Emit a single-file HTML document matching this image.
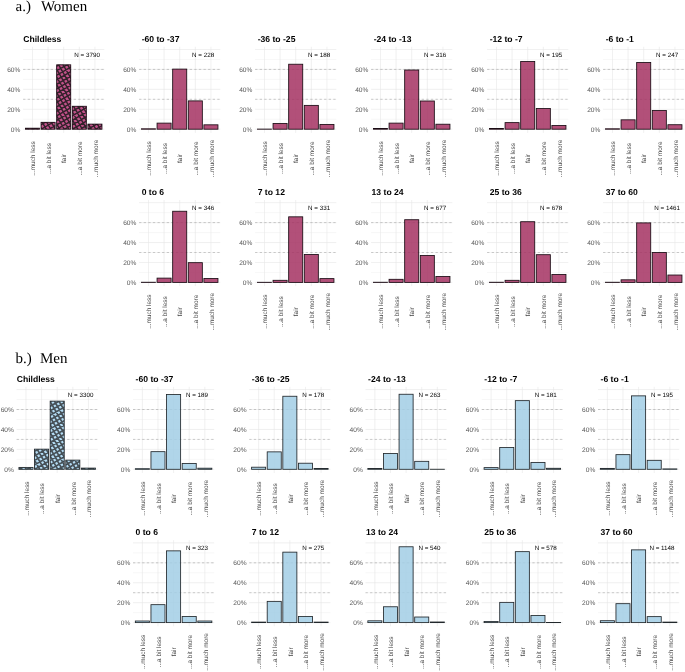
<!DOCTYPE html>
<html lang="en"><head><meta charset="utf-8"><title>Figure</title>
<style>
html,body{margin:0;padding:0;background:#fff;}
body{width:685px;height:672px;overflow:hidden;}
svg{display:block;}
text{font-family:"Liberation Sans",Arial,Helvetica,sans-serif;text-rendering:geometricPrecision;}
.hd{font-family:"Liberation Serif","Times New Roman",serif;font-size:15px;fill:#000;}
.tt{font-size:8.6px;font-weight:bold;fill:#000;}
.nn{font-size:6.25px;fill:#000;}
.ax{font-size:6.45px;fill:#444;}
.ay{font-size:6.6px;fill:#555;}
.gM{stroke:#e6e6e6;stroke-width:0.6;}
.gm{stroke:#efefef;stroke-width:0.5;}
.dash{stroke:#8c8c8c;stroke-width:0.45;stroke-dasharray:2.3 2.3;}
.bar{stroke-width:0.85;fill-opacity:0.85;}
</style></head><body>
<svg width="685" height="672" viewBox="0 0 685 672">
<defs>
<g id="hl"><path transform="rotate(-30)" d="M-130 -124.80H130M-124.80 -130V130M-130 -120.90H130M-120.90 -130V130M-130 -117.00H130M-117.00 -130V130M-130 -113.10H130M-113.10 -130V130M-130 -109.20H130M-109.20 -130V130M-130 -105.30H130M-105.30 -130V130M-130 -101.40H130M-101.40 -130V130M-130 -97.50H130M-97.50 -130V130M-130 -93.60H130M-93.60 -130V130M-130 -89.70H130M-89.70 -130V130M-130 -85.80H130M-85.80 -130V130M-130 -81.90H130M-81.90 -130V130M-130 -78.00H130M-78.00 -130V130M-130 -74.10H130M-74.10 -130V130M-130 -70.20H130M-70.20 -130V130M-130 -66.30H130M-66.30 -130V130M-130 -62.40H130M-62.40 -130V130M-130 -58.50H130M-58.50 -130V130M-130 -54.60H130M-54.60 -130V130M-130 -50.70H130M-50.70 -130V130M-130 -46.80H130M-46.80 -130V130M-130 -42.90H130M-42.90 -130V130M-130 -39.00H130M-39.00 -130V130M-130 -35.10H130M-35.10 -130V130M-130 -31.20H130M-31.20 -130V130M-130 -27.30H130M-27.30 -130V130M-130 -23.40H130M-23.40 -130V130M-130 -19.50H130M-19.50 -130V130M-130 -15.60H130M-15.60 -130V130M-130 -11.70H130M-11.70 -130V130M-130 -7.80H130M-7.80 -130V130M-130 -3.90H130M-3.90 -130V130M-130 0.00H130M0.00 -130V130M-130 3.90H130M3.90 -130V130M-130 7.80H130M7.80 -130V130M-130 11.70H130M11.70 -130V130M-130 15.60H130M15.60 -130V130M-130 19.50H130M19.50 -130V130M-130 23.40H130M23.40 -130V130M-130 27.30H130M27.30 -130V130M-130 31.20H130M31.20 -130V130M-130 35.10H130M35.10 -130V130M-130 39.00H130M39.00 -130V130M-130 42.90H130M42.90 -130V130M-130 46.80H130M46.80 -130V130M-130 50.70H130M50.70 -130V130M-130 54.60H130M54.60 -130V130M-130 58.50H130M58.50 -130V130M-130 62.40H130M62.40 -130V130M-130 66.30H130M66.30 -130V130M-130 70.20H130M70.20 -130V130M-130 74.10H130M74.10 -130V130M-130 78.00H130M78.00 -130V130M-130 81.90H130M81.90 -130V130M-130 85.80H130M85.80 -130V130M-130 89.70H130M89.70 -130V130M-130 93.60H130M93.60 -130V130M-130 97.50H130M97.50 -130V130M-130 101.40H130M101.40 -130V130M-130 105.30H130M105.30 -130V130M-130 109.20H130M109.20 -130V130M-130 113.10H130M113.10 -130V130M-130 117.00H130M117.00 -130V130M-130 120.90H130M120.90 -130V130M-130 124.80H130M124.80 -130V130" fill="none"/></g>
<filter id="bl" x="-5%" y="-5%" width="110%" height="110%"><feGaussianBlur stdDeviation="0.4"/></filter>
</defs>
<rect width="685" height="672" fill="#fff"/>
<text class="hd" x="15.6" y="11.2">a.)</text><text class="hd" x="40.9" y="11.2">Women</text>
<text class="hd" x="15.6" y="362.9">b.)</text><text class="hd" x="39.9" y="362.9">Men</text>
<g><line class="gm" x1="23.10" x2="104.30" y1="119.23" y2="119.23"/>
<line class="gm" x1="23.10" x2="104.30" y1="99.30" y2="99.30"/>
<line class="gm" x1="23.10" x2="104.30" y1="79.37" y2="79.37"/>
<line class="gm" x1="23.10" x2="104.30" y1="59.44" y2="59.44"/>
<line class="gM" x1="23.10" x2="104.30" y1="129.20" y2="129.20"/>
<line class="gM" x1="23.10" x2="104.30" y1="109.27" y2="109.27"/>
<line class="gM" x1="23.10" x2="104.30" y1="89.34" y2="89.34"/>
<line class="gM" x1="23.10" x2="104.30" y1="69.41" y2="69.41"/>
<line class="gM" x1="23.10" x2="104.30" y1="49.48" y2="49.48"/>
<line class="gM" x1="32.47" x2="32.47" y1="46.79" y2="132.89"/>
<line class="gM" x1="48.08" x2="48.08" y1="46.79" y2="132.89"/>
<line class="gM" x1="63.70" x2="63.70" y1="46.79" y2="132.89"/>
<line class="gM" x1="79.32" x2="79.32" y1="46.79" y2="132.89"/>
<line class="gM" x1="94.93" x2="94.93" y1="46.79" y2="132.89"/>
<line class="dash" x1="23.10" x2="104.30" y1="99.30" y2="99.30"/>
<line class="dash" x1="23.10" x2="104.30" y1="69.41" y2="69.41"/>
<clipPath id="chw0"><rect x="25.44" y="128.20" width="14.05" height="1.00"/></clipPath>
<rect x="25.44" y="128.20" width="14.05" height="1.00" fill="#c2528a"/>
<g clip-path="url(#chw0)"><use filter="url(#bl)" href="#hl" x="63.70" y="89.20" stroke="#33202b" stroke-width="1.45"/></g>
<rect class="bar" x="25.44" y="128.20" width="14.05" height="1.00" fill="none" stroke="#1a0c14"/>
<clipPath id="chw1"><rect x="41.06" y="122.32" width="14.05" height="6.88"/></clipPath>
<rect x="41.06" y="122.32" width="14.05" height="6.88" fill="#c2528a"/>
<g clip-path="url(#chw1)"><use filter="url(#bl)" href="#hl" x="63.70" y="89.20" stroke="#33202b" stroke-width="1.45"/></g>
<rect class="bar" x="41.06" y="122.32" width="14.05" height="6.88" fill="none" stroke="#1a0c14"/>
<clipPath id="chw2"><rect x="56.67" y="64.83" width="14.05" height="64.37"/></clipPath>
<rect x="56.67" y="64.83" width="14.05" height="64.37" fill="#c2528a"/>
<g clip-path="url(#chw2)"><use filter="url(#bl)" href="#hl" x="63.70" y="89.20" stroke="#33202b" stroke-width="1.45"/></g>
<rect class="bar" x="56.67" y="64.83" width="14.05" height="64.37" fill="none" stroke="#1a0c14"/>
<clipPath id="chw3"><rect x="72.29" y="106.28" width="14.05" height="22.92"/></clipPath>
<rect x="72.29" y="106.28" width="14.05" height="22.92" fill="#c2528a"/>
<g clip-path="url(#chw3)"><use filter="url(#bl)" href="#hl" x="63.70" y="89.20" stroke="#33202b" stroke-width="1.45"/></g>
<rect class="bar" x="72.29" y="106.28" width="14.05" height="22.92" fill="none" stroke="#1a0c14"/>
<clipPath id="chw4"><rect x="87.90" y="124.12" width="14.05" height="5.08"/></clipPath>
<rect x="87.90" y="124.12" width="14.05" height="5.08" fill="#c2528a"/>
<g clip-path="url(#chw4)"><use filter="url(#bl)" href="#hl" x="63.70" y="89.20" stroke="#33202b" stroke-width="1.45"/></g>
<rect class="bar" x="87.90" y="124.12" width="14.05" height="5.08" fill="none" stroke="#1a0c14"/>
<text class="ay" text-anchor="end" x="20.40" y="131.55">0%</text>
<text class="ay" text-anchor="end" x="20.40" y="111.62">20%</text>
<text class="ay" text-anchor="end" x="20.40" y="91.69">40%</text>
<text class="ay" text-anchor="end" x="20.40" y="71.76">60%</text>
<text class="ax" text-anchor="middle" transform="translate(35.17 158.50) rotate(-90)">...much less</text>
<text class="ax" text-anchor="middle" transform="translate(50.78 158.50) rotate(-90)">...a bit less</text>
<text class="ax" text-anchor="middle" transform="translate(66.40 158.50) rotate(-90)">fair</text>
<text class="ax" text-anchor="middle" transform="translate(82.02 158.50) rotate(-90)">...a bit more</text>
<text class="ax" text-anchor="middle" transform="translate(97.63 158.50) rotate(-90)">...much more</text>
<text class="tt" x="23.20" y="41.80">Childless</text>
<text class="nn" text-anchor="middle" x="87.12" y="57.00">N = 3790</text></g>
<g><line class="gm" x1="139.10" x2="220.30" y1="119.23" y2="119.23"/>
<line class="gm" x1="139.10" x2="220.30" y1="99.30" y2="99.30"/>
<line class="gm" x1="139.10" x2="220.30" y1="79.37" y2="79.37"/>
<line class="gm" x1="139.10" x2="220.30" y1="59.44" y2="59.44"/>
<line class="gM" x1="139.10" x2="220.30" y1="129.20" y2="129.20"/>
<line class="gM" x1="139.10" x2="220.30" y1="109.27" y2="109.27"/>
<line class="gM" x1="139.10" x2="220.30" y1="89.34" y2="89.34"/>
<line class="gM" x1="139.10" x2="220.30" y1="69.41" y2="69.41"/>
<line class="gM" x1="139.10" x2="220.30" y1="49.48" y2="49.48"/>
<line class="gM" x1="148.47" x2="148.47" y1="46.79" y2="132.89"/>
<line class="gM" x1="164.08" x2="164.08" y1="46.79" y2="132.89"/>
<line class="gM" x1="179.70" x2="179.70" y1="46.79" y2="132.89"/>
<line class="gM" x1="195.32" x2="195.32" y1="46.79" y2="132.89"/>
<line class="gM" x1="210.93" x2="210.93" y1="46.79" y2="132.89"/>
<line class="dash" x1="139.10" x2="220.30" y1="99.30" y2="99.30"/>
<line class="dash" x1="139.10" x2="220.30" y1="69.41" y2="69.41"/>
<rect class="bar" x="141.44" y="128.80" width="14.05" height="0.40" fill="#a43161" stroke="#1a0c14"/>
<rect class="bar" x="157.06" y="123.12" width="14.05" height="6.08" fill="#a43161" stroke="#1a0c14"/>
<rect class="bar" x="172.67" y="69.11" width="14.05" height="60.09" fill="#a43161" stroke="#1a0c14"/>
<rect class="bar" x="188.29" y="100.90" width="14.05" height="28.30" fill="#a43161" stroke="#1a0c14"/>
<rect class="bar" x="203.90" y="124.82" width="14.05" height="4.38" fill="#a43161" stroke="#1a0c14"/>
<text class="ay" text-anchor="end" x="136.40" y="131.55">0%</text>
<text class="ay" text-anchor="end" x="136.40" y="111.62">20%</text>
<text class="ay" text-anchor="end" x="136.40" y="91.69">40%</text>
<text class="ay" text-anchor="end" x="136.40" y="71.76">60%</text>
<text class="ax" text-anchor="middle" transform="translate(151.17 158.50) rotate(-90)">...much less</text>
<text class="ax" text-anchor="middle" transform="translate(166.78 158.50) rotate(-90)">...a bit less</text>
<text class="ax" text-anchor="middle" transform="translate(182.40 158.50) rotate(-90)">fair</text>
<text class="ax" text-anchor="middle" transform="translate(198.02 158.50) rotate(-90)">...a bit more</text>
<text class="ax" text-anchor="middle" transform="translate(213.63 158.50) rotate(-90)">...much more</text>
<text class="tt" x="141.70" y="41.80">-60 to -37</text>
<text class="nn" text-anchor="middle" x="203.12" y="57.00">N = 228</text></g>
<g><line class="gm" x1="255.10" x2="336.30" y1="119.23" y2="119.23"/>
<line class="gm" x1="255.10" x2="336.30" y1="99.30" y2="99.30"/>
<line class="gm" x1="255.10" x2="336.30" y1="79.37" y2="79.37"/>
<line class="gm" x1="255.10" x2="336.30" y1="59.44" y2="59.44"/>
<line class="gM" x1="255.10" x2="336.30" y1="129.20" y2="129.20"/>
<line class="gM" x1="255.10" x2="336.30" y1="109.27" y2="109.27"/>
<line class="gM" x1="255.10" x2="336.30" y1="89.34" y2="89.34"/>
<line class="gM" x1="255.10" x2="336.30" y1="69.41" y2="69.41"/>
<line class="gM" x1="255.10" x2="336.30" y1="49.48" y2="49.48"/>
<line class="gM" x1="264.47" x2="264.47" y1="46.79" y2="132.89"/>
<line class="gM" x1="280.08" x2="280.08" y1="46.79" y2="132.89"/>
<line class="gM" x1="295.70" x2="295.70" y1="46.79" y2="132.89"/>
<line class="gM" x1="311.32" x2="311.32" y1="46.79" y2="132.89"/>
<line class="gM" x1="326.93" x2="326.93" y1="46.79" y2="132.89"/>
<line class="dash" x1="255.10" x2="336.30" y1="99.30" y2="99.30"/>
<line class="dash" x1="255.10" x2="336.30" y1="69.41" y2="69.41"/>
<rect class="bar" x="257.44" y="129.10" width="14.05" height="0.10" fill="#a43161" stroke="#1a0c14"/>
<rect class="bar" x="273.06" y="123.42" width="14.05" height="5.78" fill="#a43161" stroke="#1a0c14"/>
<rect class="bar" x="288.67" y="64.23" width="14.05" height="64.97" fill="#a43161" stroke="#1a0c14"/>
<rect class="bar" x="304.29" y="105.38" width="14.05" height="23.82" fill="#a43161" stroke="#1a0c14"/>
<rect class="bar" x="319.90" y="124.42" width="14.05" height="4.78" fill="#a43161" stroke="#1a0c14"/>
<text class="ay" text-anchor="end" x="252.40" y="131.55">0%</text>
<text class="ay" text-anchor="end" x="252.40" y="111.62">20%</text>
<text class="ay" text-anchor="end" x="252.40" y="91.69">40%</text>
<text class="ay" text-anchor="end" x="252.40" y="71.76">60%</text>
<text class="ax" text-anchor="middle" transform="translate(267.17 158.50) rotate(-90)">...much less</text>
<text class="ax" text-anchor="middle" transform="translate(282.78 158.50) rotate(-90)">...a bit less</text>
<text class="ax" text-anchor="middle" transform="translate(298.40 158.50) rotate(-90)">fair</text>
<text class="ax" text-anchor="middle" transform="translate(314.02 158.50) rotate(-90)">...a bit more</text>
<text class="ax" text-anchor="middle" transform="translate(329.63 158.50) rotate(-90)">...much more</text>
<text class="tt" x="257.70" y="41.80">-36 to -25</text>
<text class="nn" text-anchor="middle" x="319.12" y="57.00">N = 188</text></g>
<g><line class="gm" x1="371.10" x2="452.30" y1="119.23" y2="119.23"/>
<line class="gm" x1="371.10" x2="452.30" y1="99.30" y2="99.30"/>
<line class="gm" x1="371.10" x2="452.30" y1="79.37" y2="79.37"/>
<line class="gm" x1="371.10" x2="452.30" y1="59.44" y2="59.44"/>
<line class="gM" x1="371.10" x2="452.30" y1="129.20" y2="129.20"/>
<line class="gM" x1="371.10" x2="452.30" y1="109.27" y2="109.27"/>
<line class="gM" x1="371.10" x2="452.30" y1="89.34" y2="89.34"/>
<line class="gM" x1="371.10" x2="452.30" y1="69.41" y2="69.41"/>
<line class="gM" x1="371.10" x2="452.30" y1="49.48" y2="49.48"/>
<line class="gM" x1="380.47" x2="380.47" y1="46.79" y2="132.89"/>
<line class="gM" x1="396.08" x2="396.08" y1="46.79" y2="132.89"/>
<line class="gM" x1="411.70" x2="411.70" y1="46.79" y2="132.89"/>
<line class="gM" x1="427.32" x2="427.32" y1="46.79" y2="132.89"/>
<line class="gM" x1="442.93" x2="442.93" y1="46.79" y2="132.89"/>
<line class="dash" x1="371.10" x2="452.30" y1="99.30" y2="99.30"/>
<line class="dash" x1="371.10" x2="452.30" y1="69.41" y2="69.41"/>
<rect class="bar" x="373.44" y="128.50" width="14.05" height="0.70" fill="#a43161" stroke="#1a0c14"/>
<rect class="bar" x="389.06" y="123.12" width="14.05" height="6.08" fill="#a43161" stroke="#1a0c14"/>
<rect class="bar" x="404.67" y="70.01" width="14.05" height="59.19" fill="#a43161" stroke="#1a0c14"/>
<rect class="bar" x="420.29" y="101.00" width="14.05" height="28.20" fill="#a43161" stroke="#1a0c14"/>
<rect class="bar" x="435.90" y="124.22" width="14.05" height="4.98" fill="#a43161" stroke="#1a0c14"/>
<text class="ay" text-anchor="end" x="368.40" y="131.55">0%</text>
<text class="ay" text-anchor="end" x="368.40" y="111.62">20%</text>
<text class="ay" text-anchor="end" x="368.40" y="91.69">40%</text>
<text class="ay" text-anchor="end" x="368.40" y="71.76">60%</text>
<text class="ax" text-anchor="middle" transform="translate(383.17 158.50) rotate(-90)">...much less</text>
<text class="ax" text-anchor="middle" transform="translate(398.78 158.50) rotate(-90)">...a bit less</text>
<text class="ax" text-anchor="middle" transform="translate(414.40 158.50) rotate(-90)">fair</text>
<text class="ax" text-anchor="middle" transform="translate(430.02 158.50) rotate(-90)">...a bit more</text>
<text class="ax" text-anchor="middle" transform="translate(445.63 158.50) rotate(-90)">...much more</text>
<text class="tt" x="373.70" y="41.80">-24 to -13</text>
<text class="nn" text-anchor="middle" x="435.12" y="57.00">N = 316</text></g>
<g><line class="gm" x1="487.10" x2="568.30" y1="119.23" y2="119.23"/>
<line class="gm" x1="487.10" x2="568.30" y1="99.30" y2="99.30"/>
<line class="gm" x1="487.10" x2="568.30" y1="79.37" y2="79.37"/>
<line class="gm" x1="487.10" x2="568.30" y1="59.44" y2="59.44"/>
<line class="gM" x1="487.10" x2="568.30" y1="129.20" y2="129.20"/>
<line class="gM" x1="487.10" x2="568.30" y1="109.27" y2="109.27"/>
<line class="gM" x1="487.10" x2="568.30" y1="89.34" y2="89.34"/>
<line class="gM" x1="487.10" x2="568.30" y1="69.41" y2="69.41"/>
<line class="gM" x1="487.10" x2="568.30" y1="49.48" y2="49.48"/>
<line class="gM" x1="496.47" x2="496.47" y1="46.79" y2="132.89"/>
<line class="gM" x1="512.08" x2="512.08" y1="46.79" y2="132.89"/>
<line class="gM" x1="527.70" x2="527.70" y1="46.79" y2="132.89"/>
<line class="gM" x1="543.32" x2="543.32" y1="46.79" y2="132.89"/>
<line class="gM" x1="558.93" x2="558.93" y1="46.79" y2="132.89"/>
<line class="dash" x1="487.10" x2="568.30" y1="99.30" y2="99.30"/>
<line class="dash" x1="487.10" x2="568.30" y1="69.41" y2="69.41"/>
<rect class="bar" x="489.44" y="128.50" width="14.05" height="0.70" fill="#a43161" stroke="#1a0c14"/>
<rect class="bar" x="505.06" y="122.62" width="14.05" height="6.58" fill="#a43161" stroke="#1a0c14"/>
<rect class="bar" x="520.67" y="61.54" width="14.05" height="67.66" fill="#a43161" stroke="#1a0c14"/>
<rect class="bar" x="536.29" y="108.57" width="14.05" height="20.63" fill="#a43161" stroke="#1a0c14"/>
<rect class="bar" x="551.90" y="125.51" width="14.05" height="3.69" fill="#a43161" stroke="#1a0c14"/>
<text class="ay" text-anchor="end" x="484.40" y="131.55">0%</text>
<text class="ay" text-anchor="end" x="484.40" y="111.62">20%</text>
<text class="ay" text-anchor="end" x="484.40" y="91.69">40%</text>
<text class="ay" text-anchor="end" x="484.40" y="71.76">60%</text>
<text class="ax" text-anchor="middle" transform="translate(499.17 158.50) rotate(-90)">...much less</text>
<text class="ax" text-anchor="middle" transform="translate(514.78 158.50) rotate(-90)">...a bit less</text>
<text class="ax" text-anchor="middle" transform="translate(530.40 158.50) rotate(-90)">fair</text>
<text class="ax" text-anchor="middle" transform="translate(546.02 158.50) rotate(-90)">...a bit more</text>
<text class="ax" text-anchor="middle" transform="translate(561.63 158.50) rotate(-90)">...much more</text>
<text class="tt" x="489.70" y="41.80">-12 to -7</text>
<text class="nn" text-anchor="middle" x="551.12" y="57.00">N = 195</text></g>
<g><line class="gm" x1="603.10" x2="684.30" y1="119.23" y2="119.23"/>
<line class="gm" x1="603.10" x2="684.30" y1="99.30" y2="99.30"/>
<line class="gm" x1="603.10" x2="684.30" y1="79.37" y2="79.37"/>
<line class="gm" x1="603.10" x2="684.30" y1="59.44" y2="59.44"/>
<line class="gM" x1="603.10" x2="684.30" y1="129.20" y2="129.20"/>
<line class="gM" x1="603.10" x2="684.30" y1="109.27" y2="109.27"/>
<line class="gM" x1="603.10" x2="684.30" y1="89.34" y2="89.34"/>
<line class="gM" x1="603.10" x2="684.30" y1="69.41" y2="69.41"/>
<line class="gM" x1="603.10" x2="684.30" y1="49.48" y2="49.48"/>
<line class="gM" x1="612.47" x2="612.47" y1="46.79" y2="132.89"/>
<line class="gM" x1="628.08" x2="628.08" y1="46.79" y2="132.89"/>
<line class="gM" x1="643.70" x2="643.70" y1="46.79" y2="132.89"/>
<line class="gM" x1="659.32" x2="659.32" y1="46.79" y2="132.89"/>
<line class="gM" x1="674.93" x2="674.93" y1="46.79" y2="132.89"/>
<line class="dash" x1="603.10" x2="684.30" y1="99.30" y2="99.30"/>
<line class="dash" x1="603.10" x2="684.30" y1="69.41" y2="69.41"/>
<rect class="bar" x="605.44" y="128.80" width="14.05" height="0.40" fill="#a43161" stroke="#1a0c14"/>
<rect class="bar" x="621.06" y="119.83" width="14.05" height="9.37" fill="#a43161" stroke="#1a0c14"/>
<rect class="bar" x="636.67" y="62.53" width="14.05" height="66.67" fill="#a43161" stroke="#1a0c14"/>
<rect class="bar" x="652.29" y="110.57" width="14.05" height="18.63" fill="#a43161" stroke="#1a0c14"/>
<rect class="bar" x="667.90" y="124.72" width="14.05" height="4.48" fill="#a43161" stroke="#1a0c14"/>
<text class="ay" text-anchor="end" x="600.40" y="131.55">0%</text>
<text class="ay" text-anchor="end" x="600.40" y="111.62">20%</text>
<text class="ay" text-anchor="end" x="600.40" y="91.69">40%</text>
<text class="ay" text-anchor="end" x="600.40" y="71.76">60%</text>
<text class="ax" text-anchor="middle" transform="translate(615.17 158.50) rotate(-90)">...much less</text>
<text class="ax" text-anchor="middle" transform="translate(630.78 158.50) rotate(-90)">...a bit less</text>
<text class="ax" text-anchor="middle" transform="translate(646.40 158.50) rotate(-90)">fair</text>
<text class="ax" text-anchor="middle" transform="translate(662.02 158.50) rotate(-90)">...a bit more</text>
<text class="ax" text-anchor="middle" transform="translate(677.63 158.50) rotate(-90)">...much more</text>
<text class="tt" x="605.70" y="41.80">-6 to -1</text>
<text class="nn" text-anchor="middle" x="667.12" y="57.00">N = 247</text></g>
<g><line class="gm" x1="139.10" x2="220.30" y1="272.44" y2="272.44"/>
<line class="gm" x1="139.10" x2="220.30" y1="252.50" y2="252.50"/>
<line class="gm" x1="139.10" x2="220.30" y1="232.57" y2="232.57"/>
<line class="gm" x1="139.10" x2="220.30" y1="212.64" y2="212.64"/>
<line class="gM" x1="139.10" x2="220.30" y1="282.40" y2="282.40"/>
<line class="gM" x1="139.10" x2="220.30" y1="262.47" y2="262.47"/>
<line class="gM" x1="139.10" x2="220.30" y1="242.54" y2="242.54"/>
<line class="gM" x1="139.10" x2="220.30" y1="222.61" y2="222.61"/>
<line class="gM" x1="139.10" x2="220.30" y1="202.68" y2="202.68"/>
<line class="gM" x1="148.47" x2="148.47" y1="199.99" y2="286.09"/>
<line class="gM" x1="164.08" x2="164.08" y1="199.99" y2="286.09"/>
<line class="gM" x1="179.70" x2="179.70" y1="199.99" y2="286.09"/>
<line class="gM" x1="195.32" x2="195.32" y1="199.99" y2="286.09"/>
<line class="gM" x1="210.93" x2="210.93" y1="199.99" y2="286.09"/>
<line class="dash" x1="139.10" x2="220.30" y1="252.50" y2="252.50"/>
<line class="dash" x1="139.10" x2="220.30" y1="222.61" y2="222.61"/>
<rect class="bar" x="141.44" y="282.25" width="14.05" height="0.15" fill="#a43161" stroke="#1a0c14"/>
<rect class="bar" x="157.06" y="278.12" width="14.05" height="4.28" fill="#a43161" stroke="#1a0c14"/>
<rect class="bar" x="172.67" y="211.25" width="14.05" height="71.15" fill="#a43161" stroke="#1a0c14"/>
<rect class="bar" x="188.29" y="262.67" width="14.05" height="19.73" fill="#a43161" stroke="#1a0c14"/>
<rect class="bar" x="203.90" y="278.51" width="14.05" height="3.89" fill="#a43161" stroke="#1a0c14"/>
<text class="ay" text-anchor="end" x="136.40" y="284.75">0%</text>
<text class="ay" text-anchor="end" x="136.40" y="264.82">20%</text>
<text class="ay" text-anchor="end" x="136.40" y="244.89">40%</text>
<text class="ay" text-anchor="end" x="136.40" y="224.96">60%</text>
<text class="ax" text-anchor="middle" transform="translate(151.17 311.70) rotate(-90)">...much less</text>
<text class="ax" text-anchor="middle" transform="translate(166.78 311.70) rotate(-90)">...a bit less</text>
<text class="ax" text-anchor="middle" transform="translate(182.40 311.70) rotate(-90)">fair</text>
<text class="ax" text-anchor="middle" transform="translate(198.02 311.70) rotate(-90)">...a bit more</text>
<text class="ax" text-anchor="middle" transform="translate(213.63 311.70) rotate(-90)">...much more</text>
<text class="tt" x="141.70" y="195.00">0 to 6</text>
<text class="nn" text-anchor="middle" x="203.12" y="210.20">N = 346</text></g>
<g><line class="gm" x1="255.10" x2="336.30" y1="272.44" y2="272.44"/>
<line class="gm" x1="255.10" x2="336.30" y1="252.50" y2="252.50"/>
<line class="gm" x1="255.10" x2="336.30" y1="232.57" y2="232.57"/>
<line class="gm" x1="255.10" x2="336.30" y1="212.64" y2="212.64"/>
<line class="gM" x1="255.10" x2="336.30" y1="282.40" y2="282.40"/>
<line class="gM" x1="255.10" x2="336.30" y1="262.47" y2="262.47"/>
<line class="gM" x1="255.10" x2="336.30" y1="242.54" y2="242.54"/>
<line class="gM" x1="255.10" x2="336.30" y1="222.61" y2="222.61"/>
<line class="gM" x1="255.10" x2="336.30" y1="202.68" y2="202.68"/>
<line class="gM" x1="264.47" x2="264.47" y1="199.99" y2="286.09"/>
<line class="gM" x1="280.08" x2="280.08" y1="199.99" y2="286.09"/>
<line class="gM" x1="295.70" x2="295.70" y1="199.99" y2="286.09"/>
<line class="gM" x1="311.32" x2="311.32" y1="199.99" y2="286.09"/>
<line class="gM" x1="326.93" x2="326.93" y1="199.99" y2="286.09"/>
<line class="dash" x1="255.10" x2="336.30" y1="252.50" y2="252.50"/>
<line class="dash" x1="255.10" x2="336.30" y1="222.61" y2="222.61"/>
<rect class="bar" x="257.44" y="282.30" width="14.05" height="0.10" fill="#a43161" stroke="#1a0c14"/>
<rect class="bar" x="273.06" y="280.31" width="14.05" height="2.09" fill="#a43161" stroke="#1a0c14"/>
<rect class="bar" x="288.67" y="216.83" width="14.05" height="65.57" fill="#a43161" stroke="#1a0c14"/>
<rect class="bar" x="304.29" y="254.50" width="14.05" height="27.90" fill="#a43161" stroke="#1a0c14"/>
<rect class="bar" x="319.90" y="278.61" width="14.05" height="3.79" fill="#a43161" stroke="#1a0c14"/>
<text class="ay" text-anchor="end" x="252.40" y="284.75">0%</text>
<text class="ay" text-anchor="end" x="252.40" y="264.82">20%</text>
<text class="ay" text-anchor="end" x="252.40" y="244.89">40%</text>
<text class="ay" text-anchor="end" x="252.40" y="224.96">60%</text>
<text class="ax" text-anchor="middle" transform="translate(267.17 311.70) rotate(-90)">...much less</text>
<text class="ax" text-anchor="middle" transform="translate(282.78 311.70) rotate(-90)">...a bit less</text>
<text class="ax" text-anchor="middle" transform="translate(298.40 311.70) rotate(-90)">fair</text>
<text class="ax" text-anchor="middle" transform="translate(314.02 311.70) rotate(-90)">...a bit more</text>
<text class="ax" text-anchor="middle" transform="translate(329.63 311.70) rotate(-90)">...much more</text>
<text class="tt" x="257.70" y="195.00">7 to 12</text>
<text class="nn" text-anchor="middle" x="319.12" y="210.20">N = 331</text></g>
<g><line class="gm" x1="371.10" x2="452.30" y1="272.44" y2="272.44"/>
<line class="gm" x1="371.10" x2="452.30" y1="252.50" y2="252.50"/>
<line class="gm" x1="371.10" x2="452.30" y1="232.57" y2="232.57"/>
<line class="gm" x1="371.10" x2="452.30" y1="212.64" y2="212.64"/>
<line class="gM" x1="371.10" x2="452.30" y1="282.40" y2="282.40"/>
<line class="gM" x1="371.10" x2="452.30" y1="262.47" y2="262.47"/>
<line class="gM" x1="371.10" x2="452.30" y1="242.54" y2="242.54"/>
<line class="gM" x1="371.10" x2="452.30" y1="222.61" y2="222.61"/>
<line class="gM" x1="371.10" x2="452.30" y1="202.68" y2="202.68"/>
<line class="gM" x1="380.47" x2="380.47" y1="199.99" y2="286.09"/>
<line class="gM" x1="396.08" x2="396.08" y1="199.99" y2="286.09"/>
<line class="gM" x1="411.70" x2="411.70" y1="199.99" y2="286.09"/>
<line class="gM" x1="427.32" x2="427.32" y1="199.99" y2="286.09"/>
<line class="gM" x1="442.93" x2="442.93" y1="199.99" y2="286.09"/>
<line class="dash" x1="371.10" x2="452.30" y1="252.50" y2="252.50"/>
<line class="dash" x1="371.10" x2="452.30" y1="222.61" y2="222.61"/>
<rect class="bar" x="373.44" y="282.25" width="14.05" height="0.15" fill="#a43161" stroke="#1a0c14"/>
<rect class="bar" x="389.06" y="279.31" width="14.05" height="3.09" fill="#a43161" stroke="#1a0c14"/>
<rect class="bar" x="404.67" y="219.72" width="14.05" height="62.68" fill="#a43161" stroke="#1a0c14"/>
<rect class="bar" x="420.29" y="255.49" width="14.05" height="26.91" fill="#a43161" stroke="#1a0c14"/>
<rect class="bar" x="435.90" y="276.52" width="14.05" height="5.88" fill="#a43161" stroke="#1a0c14"/>
<text class="ay" text-anchor="end" x="368.40" y="284.75">0%</text>
<text class="ay" text-anchor="end" x="368.40" y="264.82">20%</text>
<text class="ay" text-anchor="end" x="368.40" y="244.89">40%</text>
<text class="ay" text-anchor="end" x="368.40" y="224.96">60%</text>
<text class="ax" text-anchor="middle" transform="translate(383.17 311.70) rotate(-90)">...much less</text>
<text class="ax" text-anchor="middle" transform="translate(398.78 311.70) rotate(-90)">...a bit less</text>
<text class="ax" text-anchor="middle" transform="translate(414.40 311.70) rotate(-90)">fair</text>
<text class="ax" text-anchor="middle" transform="translate(430.02 311.70) rotate(-90)">...a bit more</text>
<text class="ax" text-anchor="middle" transform="translate(445.63 311.70) rotate(-90)">...much more</text>
<text class="tt" x="371.60" y="195.00">13 to 24</text>
<text class="nn" text-anchor="middle" x="435.12" y="210.20">N = 677</text></g>
<g><line class="gm" x1="487.10" x2="568.30" y1="272.44" y2="272.44"/>
<line class="gm" x1="487.10" x2="568.30" y1="252.50" y2="252.50"/>
<line class="gm" x1="487.10" x2="568.30" y1="232.57" y2="232.57"/>
<line class="gm" x1="487.10" x2="568.30" y1="212.64" y2="212.64"/>
<line class="gM" x1="487.10" x2="568.30" y1="282.40" y2="282.40"/>
<line class="gM" x1="487.10" x2="568.30" y1="262.47" y2="262.47"/>
<line class="gM" x1="487.10" x2="568.30" y1="242.54" y2="242.54"/>
<line class="gM" x1="487.10" x2="568.30" y1="222.61" y2="222.61"/>
<line class="gM" x1="487.10" x2="568.30" y1="202.68" y2="202.68"/>
<line class="gM" x1="496.47" x2="496.47" y1="199.99" y2="286.09"/>
<line class="gM" x1="512.08" x2="512.08" y1="199.99" y2="286.09"/>
<line class="gM" x1="527.70" x2="527.70" y1="199.99" y2="286.09"/>
<line class="gM" x1="543.32" x2="543.32" y1="199.99" y2="286.09"/>
<line class="gM" x1="558.93" x2="558.93" y1="199.99" y2="286.09"/>
<line class="dash" x1="487.10" x2="568.30" y1="252.50" y2="252.50"/>
<line class="dash" x1="487.10" x2="568.30" y1="222.61" y2="222.61"/>
<rect class="bar" x="489.44" y="282.25" width="14.05" height="0.15" fill="#a43161" stroke="#1a0c14"/>
<rect class="bar" x="505.06" y="280.31" width="14.05" height="2.09" fill="#a43161" stroke="#1a0c14"/>
<rect class="bar" x="520.67" y="221.71" width="14.05" height="60.69" fill="#a43161" stroke="#1a0c14"/>
<rect class="bar" x="536.29" y="254.70" width="14.05" height="27.70" fill="#a43161" stroke="#1a0c14"/>
<rect class="bar" x="551.90" y="274.43" width="14.05" height="7.97" fill="#a43161" stroke="#1a0c14"/>
<text class="ay" text-anchor="end" x="484.40" y="284.75">0%</text>
<text class="ay" text-anchor="end" x="484.40" y="264.82">20%</text>
<text class="ay" text-anchor="end" x="484.40" y="244.89">40%</text>
<text class="ay" text-anchor="end" x="484.40" y="224.96">60%</text>
<text class="ax" text-anchor="middle" transform="translate(499.17 311.70) rotate(-90)">...much less</text>
<text class="ax" text-anchor="middle" transform="translate(514.78 311.70) rotate(-90)">...a bit less</text>
<text class="ax" text-anchor="middle" transform="translate(530.40 311.70) rotate(-90)">fair</text>
<text class="ax" text-anchor="middle" transform="translate(546.02 311.70) rotate(-90)">...a bit more</text>
<text class="ax" text-anchor="middle" transform="translate(561.63 311.70) rotate(-90)">...much more</text>
<text class="tt" x="489.70" y="195.00">25 to 36</text>
<text class="nn" text-anchor="middle" x="551.12" y="210.20">N = 678</text></g>
<g><line class="gm" x1="603.10" x2="684.30" y1="272.44" y2="272.44"/>
<line class="gm" x1="603.10" x2="684.30" y1="252.50" y2="252.50"/>
<line class="gm" x1="603.10" x2="684.30" y1="232.57" y2="232.57"/>
<line class="gm" x1="603.10" x2="684.30" y1="212.64" y2="212.64"/>
<line class="gM" x1="603.10" x2="684.30" y1="282.40" y2="282.40"/>
<line class="gM" x1="603.10" x2="684.30" y1="262.47" y2="262.47"/>
<line class="gM" x1="603.10" x2="684.30" y1="242.54" y2="242.54"/>
<line class="gM" x1="603.10" x2="684.30" y1="222.61" y2="222.61"/>
<line class="gM" x1="603.10" x2="684.30" y1="202.68" y2="202.68"/>
<line class="gM" x1="612.47" x2="612.47" y1="199.99" y2="286.09"/>
<line class="gM" x1="628.08" x2="628.08" y1="199.99" y2="286.09"/>
<line class="gM" x1="643.70" x2="643.70" y1="199.99" y2="286.09"/>
<line class="gM" x1="659.32" x2="659.32" y1="199.99" y2="286.09"/>
<line class="gM" x1="674.93" x2="674.93" y1="199.99" y2="286.09"/>
<line class="dash" x1="603.10" x2="684.30" y1="252.50" y2="252.50"/>
<line class="dash" x1="603.10" x2="684.30" y1="222.61" y2="222.61"/>
<rect class="bar" x="605.44" y="282.25" width="14.05" height="0.15" fill="#a43161" stroke="#1a0c14"/>
<rect class="bar" x="621.06" y="279.81" width="14.05" height="2.59" fill="#a43161" stroke="#1a0c14"/>
<rect class="bar" x="636.67" y="222.91" width="14.05" height="59.49" fill="#a43161" stroke="#1a0c14"/>
<rect class="bar" x="652.29" y="252.50" width="14.05" height="29.90" fill="#a43161" stroke="#1a0c14"/>
<rect class="bar" x="667.90" y="275.03" width="14.05" height="7.37" fill="#a43161" stroke="#1a0c14"/>
<text class="ay" text-anchor="end" x="600.40" y="284.75">0%</text>
<text class="ay" text-anchor="end" x="600.40" y="264.82">20%</text>
<text class="ay" text-anchor="end" x="600.40" y="244.89">40%</text>
<text class="ay" text-anchor="end" x="600.40" y="224.96">60%</text>
<text class="ax" text-anchor="middle" transform="translate(615.17 311.70) rotate(-90)">...much less</text>
<text class="ax" text-anchor="middle" transform="translate(630.78 311.70) rotate(-90)">...a bit less</text>
<text class="ax" text-anchor="middle" transform="translate(646.40 311.70) rotate(-90)">fair</text>
<text class="ax" text-anchor="middle" transform="translate(662.02 311.70) rotate(-90)">...a bit more</text>
<text class="ax" text-anchor="middle" transform="translate(677.63 311.70) rotate(-90)">...much more</text>
<text class="tt" x="605.70" y="195.00">37 to 60</text>
<text class="nn" text-anchor="middle" x="667.12" y="210.20">N = 1461</text></g>
<g><line class="gm" x1="16.60" x2="97.80" y1="459.34" y2="459.34"/>
<line class="gm" x1="16.60" x2="97.80" y1="439.41" y2="439.41"/>
<line class="gm" x1="16.60" x2="97.80" y1="419.48" y2="419.48"/>
<line class="gm" x1="16.60" x2="97.80" y1="399.55" y2="399.55"/>
<line class="gM" x1="16.60" x2="97.80" y1="469.30" y2="469.30"/>
<line class="gM" x1="16.60" x2="97.80" y1="449.37" y2="449.37"/>
<line class="gM" x1="16.60" x2="97.80" y1="429.44" y2="429.44"/>
<line class="gM" x1="16.60" x2="97.80" y1="409.51" y2="409.51"/>
<line class="gM" x1="16.60" x2="97.80" y1="389.58" y2="389.58"/>
<line class="gM" x1="25.97" x2="25.97" y1="386.89" y2="472.99"/>
<line class="gM" x1="41.58" x2="41.58" y1="386.89" y2="472.99"/>
<line class="gM" x1="57.20" x2="57.20" y1="386.89" y2="472.99"/>
<line class="gM" x1="72.82" x2="72.82" y1="386.89" y2="472.99"/>
<line class="gM" x1="88.43" x2="88.43" y1="386.89" y2="472.99"/>
<line class="dash" x1="16.60" x2="97.80" y1="439.41" y2="439.41"/>
<line class="dash" x1="16.60" x2="97.80" y1="409.51" y2="409.51"/>
<clipPath id="chm0"><rect x="18.94" y="467.41" width="14.05" height="1.89"/></clipPath>
<rect x="18.94" y="467.41" width="14.05" height="1.89" fill="#b4dcf4"/>
<g clip-path="url(#chm0)"><use filter="url(#bl)" href="#hl" x="57.20" y="429.30" stroke="#465158" stroke-width="1.7"/></g>
<rect class="bar" x="18.94" y="467.41" width="14.05" height="1.89" fill="none" stroke="#22282c"/>
<clipPath id="chm1"><rect x="34.56" y="449.17" width="14.05" height="20.13"/></clipPath>
<rect x="34.56" y="449.17" width="14.05" height="20.13" fill="#b4dcf4"/>
<g clip-path="url(#chm1)"><use filter="url(#bl)" href="#hl" x="57.20" y="429.30" stroke="#465158" stroke-width="1.7"/></g>
<rect class="bar" x="34.56" y="449.17" width="14.05" height="20.13" fill="none" stroke="#22282c"/>
<clipPath id="chm2"><rect x="50.17" y="401.14" width="14.05" height="68.16"/></clipPath>
<rect x="50.17" y="401.14" width="14.05" height="68.16" fill="#b4dcf4"/>
<g clip-path="url(#chm2)"><use filter="url(#bl)" href="#hl" x="57.20" y="429.30" stroke="#465158" stroke-width="1.7"/></g>
<rect class="bar" x="50.17" y="401.14" width="14.05" height="68.16" fill="none" stroke="#22282c"/>
<clipPath id="chm3"><rect x="65.79" y="460.13" width="14.05" height="9.17"/></clipPath>
<rect x="65.79" y="460.13" width="14.05" height="9.17" fill="#b4dcf4"/>
<g clip-path="url(#chm3)"><use filter="url(#bl)" href="#hl" x="57.20" y="429.30" stroke="#465158" stroke-width="1.7"/></g>
<rect class="bar" x="65.79" y="460.13" width="14.05" height="9.17" fill="none" stroke="#22282c"/>
<clipPath id="chm4"><rect x="81.40" y="468.10" width="14.05" height="1.20"/></clipPath>
<rect x="81.40" y="468.10" width="14.05" height="1.20" fill="#b4dcf4"/>
<g clip-path="url(#chm4)"><use filter="url(#bl)" href="#hl" x="57.20" y="429.30" stroke="#465158" stroke-width="1.7"/></g>
<rect class="bar" x="81.40" y="468.10" width="14.05" height="1.20" fill="none" stroke="#22282c"/>
<text class="ay" text-anchor="end" x="13.90" y="471.65">0%</text>
<text class="ay" text-anchor="end" x="13.90" y="451.72">20%</text>
<text class="ay" text-anchor="end" x="13.90" y="431.79">40%</text>
<text class="ay" text-anchor="end" x="13.90" y="411.86">60%</text>
<text class="ax" text-anchor="middle" transform="translate(28.67 498.60) rotate(-90)">...much less</text>
<text class="ax" text-anchor="middle" transform="translate(44.28 498.60) rotate(-90)">...a bit less</text>
<text class="ax" text-anchor="middle" transform="translate(59.90 498.60) rotate(-90)">fair</text>
<text class="ax" text-anchor="middle" transform="translate(75.52 498.60) rotate(-90)">...a bit more</text>
<text class="ax" text-anchor="middle" transform="translate(91.13 498.60) rotate(-90)">...much more</text>
<text class="tt" x="16.70" y="381.90">Childless</text>
<text class="nn" text-anchor="middle" x="80.62" y="397.10">N = 3300</text></g>
<g><line class="gm" x1="133.00" x2="214.20" y1="459.34" y2="459.34"/>
<line class="gm" x1="133.00" x2="214.20" y1="439.41" y2="439.41"/>
<line class="gm" x1="133.00" x2="214.20" y1="419.48" y2="419.48"/>
<line class="gm" x1="133.00" x2="214.20" y1="399.55" y2="399.55"/>
<line class="gM" x1="133.00" x2="214.20" y1="469.30" y2="469.30"/>
<line class="gM" x1="133.00" x2="214.20" y1="449.37" y2="449.37"/>
<line class="gM" x1="133.00" x2="214.20" y1="429.44" y2="429.44"/>
<line class="gM" x1="133.00" x2="214.20" y1="409.51" y2="409.51"/>
<line class="gM" x1="133.00" x2="214.20" y1="389.58" y2="389.58"/>
<line class="gM" x1="142.37" x2="142.37" y1="386.89" y2="472.99"/>
<line class="gM" x1="157.98" x2="157.98" y1="386.89" y2="472.99"/>
<line class="gM" x1="173.60" x2="173.60" y1="386.89" y2="472.99"/>
<line class="gM" x1="189.22" x2="189.22" y1="386.89" y2="472.99"/>
<line class="gM" x1="204.83" x2="204.83" y1="386.89" y2="472.99"/>
<line class="dash" x1="133.00" x2="214.20" y1="439.41" y2="439.41"/>
<line class="dash" x1="133.00" x2="214.20" y1="409.51" y2="409.51"/>
<rect class="bar" x="135.34" y="468.70" width="14.05" height="0.60" fill="#a2cee5" stroke="#22282c"/>
<rect class="bar" x="150.96" y="451.66" width="14.05" height="17.64" fill="#a2cee5" stroke="#22282c"/>
<rect class="bar" x="166.57" y="394.56" width="14.05" height="74.74" fill="#a2cee5" stroke="#22282c"/>
<rect class="bar" x="182.19" y="463.42" width="14.05" height="5.88" fill="#a2cee5" stroke="#22282c"/>
<rect class="bar" x="197.80" y="468.20" width="14.05" height="1.10" fill="#a2cee5" stroke="#22282c"/>
<text class="ay" text-anchor="end" x="130.30" y="471.65">0%</text>
<text class="ay" text-anchor="end" x="130.30" y="451.72">20%</text>
<text class="ay" text-anchor="end" x="130.30" y="431.79">40%</text>
<text class="ay" text-anchor="end" x="130.30" y="411.86">60%</text>
<text class="ax" text-anchor="middle" transform="translate(145.07 498.60) rotate(-90)">...much less</text>
<text class="ax" text-anchor="middle" transform="translate(160.68 498.60) rotate(-90)">...a bit less</text>
<text class="ax" text-anchor="middle" transform="translate(176.30 498.60) rotate(-90)">fair</text>
<text class="ax" text-anchor="middle" transform="translate(191.92 498.60) rotate(-90)">...a bit more</text>
<text class="ax" text-anchor="middle" transform="translate(207.53 498.60) rotate(-90)">...much more</text>
<text class="tt" x="135.60" y="381.90">-60 to -37</text>
<text class="nn" text-anchor="middle" x="197.02" y="397.10">N = 189</text></g>
<g><line class="gm" x1="249.25" x2="330.45" y1="459.34" y2="459.34"/>
<line class="gm" x1="249.25" x2="330.45" y1="439.41" y2="439.41"/>
<line class="gm" x1="249.25" x2="330.45" y1="419.48" y2="419.48"/>
<line class="gm" x1="249.25" x2="330.45" y1="399.55" y2="399.55"/>
<line class="gM" x1="249.25" x2="330.45" y1="469.30" y2="469.30"/>
<line class="gM" x1="249.25" x2="330.45" y1="449.37" y2="449.37"/>
<line class="gM" x1="249.25" x2="330.45" y1="429.44" y2="429.44"/>
<line class="gM" x1="249.25" x2="330.45" y1="409.51" y2="409.51"/>
<line class="gM" x1="249.25" x2="330.45" y1="389.58" y2="389.58"/>
<line class="gM" x1="258.62" x2="258.62" y1="386.89" y2="472.99"/>
<line class="gM" x1="274.23" x2="274.23" y1="386.89" y2="472.99"/>
<line class="gM" x1="289.85" x2="289.85" y1="386.89" y2="472.99"/>
<line class="gM" x1="305.47" x2="305.47" y1="386.89" y2="472.99"/>
<line class="gM" x1="321.08" x2="321.08" y1="386.89" y2="472.99"/>
<line class="dash" x1="249.25" x2="330.45" y1="439.41" y2="439.41"/>
<line class="dash" x1="249.25" x2="330.45" y1="409.51" y2="409.51"/>
<rect class="bar" x="251.59" y="467.21" width="14.05" height="2.09" fill="#a2cee5" stroke="#22282c"/>
<rect class="bar" x="267.21" y="451.86" width="14.05" height="17.44" fill="#a2cee5" stroke="#22282c"/>
<rect class="bar" x="282.82" y="396.26" width="14.05" height="73.04" fill="#a2cee5" stroke="#22282c"/>
<rect class="bar" x="298.44" y="463.22" width="14.05" height="6.08" fill="#a2cee5" stroke="#22282c"/>
<rect class="bar" x="314.05" y="468.50" width="14.05" height="0.80" fill="#a2cee5" stroke="#22282c"/>
<text class="ay" text-anchor="end" x="246.55" y="471.65">0%</text>
<text class="ay" text-anchor="end" x="246.55" y="451.72">20%</text>
<text class="ay" text-anchor="end" x="246.55" y="431.79">40%</text>
<text class="ay" text-anchor="end" x="246.55" y="411.86">60%</text>
<text class="ax" text-anchor="middle" transform="translate(261.32 498.60) rotate(-90)">...much less</text>
<text class="ax" text-anchor="middle" transform="translate(276.93 498.60) rotate(-90)">...a bit less</text>
<text class="ax" text-anchor="middle" transform="translate(292.55 498.60) rotate(-90)">fair</text>
<text class="ax" text-anchor="middle" transform="translate(308.17 498.60) rotate(-90)">...a bit more</text>
<text class="ax" text-anchor="middle" transform="translate(323.78 498.60) rotate(-90)">...much more</text>
<text class="tt" x="251.85" y="381.90">-36 to -25</text>
<text class="nn" text-anchor="middle" x="313.27" y="397.10">N = 178</text></g>
<g><line class="gm" x1="365.50" x2="446.70" y1="459.34" y2="459.34"/>
<line class="gm" x1="365.50" x2="446.70" y1="439.41" y2="439.41"/>
<line class="gm" x1="365.50" x2="446.70" y1="419.48" y2="419.48"/>
<line class="gm" x1="365.50" x2="446.70" y1="399.55" y2="399.55"/>
<line class="gM" x1="365.50" x2="446.70" y1="469.30" y2="469.30"/>
<line class="gM" x1="365.50" x2="446.70" y1="449.37" y2="449.37"/>
<line class="gM" x1="365.50" x2="446.70" y1="429.44" y2="429.44"/>
<line class="gM" x1="365.50" x2="446.70" y1="409.51" y2="409.51"/>
<line class="gM" x1="365.50" x2="446.70" y1="389.58" y2="389.58"/>
<line class="gM" x1="374.87" x2="374.87" y1="386.89" y2="472.99"/>
<line class="gM" x1="390.48" x2="390.48" y1="386.89" y2="472.99"/>
<line class="gM" x1="406.10" x2="406.10" y1="386.89" y2="472.99"/>
<line class="gM" x1="421.72" x2="421.72" y1="386.89" y2="472.99"/>
<line class="gM" x1="437.33" x2="437.33" y1="386.89" y2="472.99"/>
<line class="dash" x1="365.50" x2="446.70" y1="439.41" y2="439.41"/>
<line class="dash" x1="365.50" x2="446.70" y1="409.51" y2="409.51"/>
<rect class="bar" x="367.84" y="468.50" width="14.05" height="0.80" fill="#a2cee5" stroke="#22282c"/>
<rect class="bar" x="383.46" y="453.46" width="14.05" height="15.84" fill="#a2cee5" stroke="#22282c"/>
<rect class="bar" x="399.07" y="394.26" width="14.05" height="75.04" fill="#a2cee5" stroke="#22282c"/>
<rect class="bar" x="414.69" y="461.33" width="14.05" height="7.97" fill="#a2cee5" stroke="#22282c"/>
<rect class="bar" x="430.30" y="469.25" width="14.05" height="0.05" fill="#a2cee5" stroke="#22282c"/>
<text class="ay" text-anchor="end" x="362.80" y="471.65">0%</text>
<text class="ay" text-anchor="end" x="362.80" y="451.72">20%</text>
<text class="ay" text-anchor="end" x="362.80" y="431.79">40%</text>
<text class="ay" text-anchor="end" x="362.80" y="411.86">60%</text>
<text class="ax" text-anchor="middle" transform="translate(377.57 498.60) rotate(-90)">...much less</text>
<text class="ax" text-anchor="middle" transform="translate(393.18 498.60) rotate(-90)">...a bit less</text>
<text class="ax" text-anchor="middle" transform="translate(408.80 498.60) rotate(-90)">fair</text>
<text class="ax" text-anchor="middle" transform="translate(424.42 498.60) rotate(-90)">...a bit more</text>
<text class="ax" text-anchor="middle" transform="translate(440.03 498.60) rotate(-90)">...much more</text>
<text class="tt" x="368.10" y="381.90">-24 to -13</text>
<text class="nn" text-anchor="middle" x="429.52" y="397.10">N = 263</text></g>
<g><line class="gm" x1="481.75" x2="562.95" y1="459.34" y2="459.34"/>
<line class="gm" x1="481.75" x2="562.95" y1="439.41" y2="439.41"/>
<line class="gm" x1="481.75" x2="562.95" y1="419.48" y2="419.48"/>
<line class="gm" x1="481.75" x2="562.95" y1="399.55" y2="399.55"/>
<line class="gM" x1="481.75" x2="562.95" y1="469.30" y2="469.30"/>
<line class="gM" x1="481.75" x2="562.95" y1="449.37" y2="449.37"/>
<line class="gM" x1="481.75" x2="562.95" y1="429.44" y2="429.44"/>
<line class="gM" x1="481.75" x2="562.95" y1="409.51" y2="409.51"/>
<line class="gM" x1="481.75" x2="562.95" y1="389.58" y2="389.58"/>
<line class="gM" x1="491.12" x2="491.12" y1="386.89" y2="472.99"/>
<line class="gM" x1="506.73" x2="506.73" y1="386.89" y2="472.99"/>
<line class="gM" x1="522.35" x2="522.35" y1="386.89" y2="472.99"/>
<line class="gM" x1="537.97" x2="537.97" y1="386.89" y2="472.99"/>
<line class="gM" x1="553.58" x2="553.58" y1="386.89" y2="472.99"/>
<line class="dash" x1="481.75" x2="562.95" y1="439.41" y2="439.41"/>
<line class="dash" x1="481.75" x2="562.95" y1="409.51" y2="409.51"/>
<rect class="bar" x="484.09" y="467.61" width="14.05" height="1.69" fill="#a2cee5" stroke="#22282c"/>
<rect class="bar" x="499.71" y="447.48" width="14.05" height="21.82" fill="#a2cee5" stroke="#22282c"/>
<rect class="bar" x="515.32" y="400.64" width="14.05" height="68.66" fill="#a2cee5" stroke="#22282c"/>
<rect class="bar" x="530.94" y="462.42" width="14.05" height="6.88" fill="#a2cee5" stroke="#22282c"/>
<rect class="bar" x="546.55" y="468.30" width="14.05" height="1.00" fill="#a2cee5" stroke="#22282c"/>
<text class="ay" text-anchor="end" x="479.05" y="471.65">0%</text>
<text class="ay" text-anchor="end" x="479.05" y="451.72">20%</text>
<text class="ay" text-anchor="end" x="479.05" y="431.79">40%</text>
<text class="ay" text-anchor="end" x="479.05" y="411.86">60%</text>
<text class="ax" text-anchor="middle" transform="translate(493.82 498.60) rotate(-90)">...much less</text>
<text class="ax" text-anchor="middle" transform="translate(509.43 498.60) rotate(-90)">...a bit less</text>
<text class="ax" text-anchor="middle" transform="translate(525.05 498.60) rotate(-90)">fair</text>
<text class="ax" text-anchor="middle" transform="translate(540.67 498.60) rotate(-90)">...a bit more</text>
<text class="ax" text-anchor="middle" transform="translate(556.28 498.60) rotate(-90)">...much more</text>
<text class="tt" x="484.35" y="381.90">-12 to -7</text>
<text class="nn" text-anchor="middle" x="545.77" y="397.10">N = 181</text></g>
<g><line class="gm" x1="598.00" x2="679.20" y1="459.34" y2="459.34"/>
<line class="gm" x1="598.00" x2="679.20" y1="439.41" y2="439.41"/>
<line class="gm" x1="598.00" x2="679.20" y1="419.48" y2="419.48"/>
<line class="gm" x1="598.00" x2="679.20" y1="399.55" y2="399.55"/>
<line class="gM" x1="598.00" x2="679.20" y1="469.30" y2="469.30"/>
<line class="gM" x1="598.00" x2="679.20" y1="449.37" y2="449.37"/>
<line class="gM" x1="598.00" x2="679.20" y1="429.44" y2="429.44"/>
<line class="gM" x1="598.00" x2="679.20" y1="409.51" y2="409.51"/>
<line class="gM" x1="598.00" x2="679.20" y1="389.58" y2="389.58"/>
<line class="gM" x1="607.37" x2="607.37" y1="386.89" y2="472.99"/>
<line class="gM" x1="622.98" x2="622.98" y1="386.89" y2="472.99"/>
<line class="gM" x1="638.60" x2="638.60" y1="386.89" y2="472.99"/>
<line class="gM" x1="654.22" x2="654.22" y1="386.89" y2="472.99"/>
<line class="gM" x1="669.83" x2="669.83" y1="386.89" y2="472.99"/>
<line class="dash" x1="598.00" x2="679.20" y1="439.41" y2="439.41"/>
<line class="dash" x1="598.00" x2="679.20" y1="409.51" y2="409.51"/>
<rect class="bar" x="600.34" y="468.40" width="14.05" height="0.90" fill="#a2cee5" stroke="#22282c"/>
<rect class="bar" x="615.96" y="454.65" width="14.05" height="14.65" fill="#a2cee5" stroke="#22282c"/>
<rect class="bar" x="631.57" y="395.86" width="14.05" height="73.44" fill="#a2cee5" stroke="#22282c"/>
<rect class="bar" x="647.19" y="460.33" width="14.05" height="8.97" fill="#a2cee5" stroke="#22282c"/>
<rect class="bar" x="662.80" y="468.90" width="14.05" height="0.40" fill="#a2cee5" stroke="#22282c"/>
<text class="ay" text-anchor="end" x="595.30" y="471.65">0%</text>
<text class="ay" text-anchor="end" x="595.30" y="451.72">20%</text>
<text class="ay" text-anchor="end" x="595.30" y="431.79">40%</text>
<text class="ay" text-anchor="end" x="595.30" y="411.86">60%</text>
<text class="ax" text-anchor="middle" transform="translate(610.07 498.60) rotate(-90)">...much less</text>
<text class="ax" text-anchor="middle" transform="translate(625.68 498.60) rotate(-90)">...a bit less</text>
<text class="ax" text-anchor="middle" transform="translate(641.30 498.60) rotate(-90)">fair</text>
<text class="ax" text-anchor="middle" transform="translate(656.92 498.60) rotate(-90)">...a bit more</text>
<text class="ax" text-anchor="middle" transform="translate(672.53 498.60) rotate(-90)">...much more</text>
<text class="tt" x="600.60" y="381.90">-6 to -1</text>
<text class="nn" text-anchor="middle" x="662.02" y="397.10">N = 195</text></g>
<g><line class="gm" x1="133.00" x2="214.20" y1="612.63" y2="612.63"/>
<line class="gm" x1="133.00" x2="214.20" y1="592.71" y2="592.71"/>
<line class="gm" x1="133.00" x2="214.20" y1="572.77" y2="572.77"/>
<line class="gm" x1="133.00" x2="214.20" y1="552.85" y2="552.85"/>
<line class="gM" x1="133.00" x2="214.20" y1="622.60" y2="622.60"/>
<line class="gM" x1="133.00" x2="214.20" y1="602.67" y2="602.67"/>
<line class="gM" x1="133.00" x2="214.20" y1="582.74" y2="582.74"/>
<line class="gM" x1="133.00" x2="214.20" y1="562.81" y2="562.81"/>
<line class="gM" x1="133.00" x2="214.20" y1="542.88" y2="542.88"/>
<line class="gM" x1="142.37" x2="142.37" y1="540.19" y2="626.29"/>
<line class="gM" x1="157.98" x2="157.98" y1="540.19" y2="626.29"/>
<line class="gM" x1="173.60" x2="173.60" y1="540.19" y2="626.29"/>
<line class="gM" x1="189.22" x2="189.22" y1="540.19" y2="626.29"/>
<line class="gM" x1="204.83" x2="204.83" y1="540.19" y2="626.29"/>
<line class="dash" x1="133.00" x2="214.20" y1="592.71" y2="592.71"/>
<line class="dash" x1="133.00" x2="214.20" y1="562.81" y2="562.81"/>
<rect class="bar" x="135.34" y="621.01" width="14.05" height="1.59" fill="#a2cee5" stroke="#22282c"/>
<rect class="bar" x="150.96" y="604.66" width="14.05" height="17.94" fill="#a2cee5" stroke="#22282c"/>
<rect class="bar" x="166.57" y="550.85" width="14.05" height="71.75" fill="#a2cee5" stroke="#22282c"/>
<rect class="bar" x="182.19" y="616.52" width="14.05" height="6.08" fill="#a2cee5" stroke="#22282c"/>
<rect class="bar" x="197.80" y="621.01" width="14.05" height="1.59" fill="#a2cee5" stroke="#22282c"/>
<text class="ay" text-anchor="end" x="130.30" y="624.95">0%</text>
<text class="ay" text-anchor="end" x="130.30" y="605.02">20%</text>
<text class="ay" text-anchor="end" x="130.30" y="585.09">40%</text>
<text class="ay" text-anchor="end" x="130.30" y="565.16">60%</text>
<text class="ax" text-anchor="middle" transform="translate(145.07 651.90) rotate(-90)">...much less</text>
<text class="ax" text-anchor="middle" transform="translate(160.68 651.90) rotate(-90)">...a bit less</text>
<text class="ax" text-anchor="middle" transform="translate(176.30 651.90) rotate(-90)">fair</text>
<text class="ax" text-anchor="middle" transform="translate(191.92 651.90) rotate(-90)">...a bit more</text>
<text class="ax" text-anchor="middle" transform="translate(207.53 651.90) rotate(-90)">...much more</text>
<text class="tt" x="135.60" y="535.20">0 to 6</text>
<text class="nn" text-anchor="middle" x="197.02" y="550.40">N = 323</text></g>
<g><line class="gm" x1="249.25" x2="330.45" y1="612.63" y2="612.63"/>
<line class="gm" x1="249.25" x2="330.45" y1="592.71" y2="592.71"/>
<line class="gm" x1="249.25" x2="330.45" y1="572.77" y2="572.77"/>
<line class="gm" x1="249.25" x2="330.45" y1="552.85" y2="552.85"/>
<line class="gM" x1="249.25" x2="330.45" y1="622.60" y2="622.60"/>
<line class="gM" x1="249.25" x2="330.45" y1="602.67" y2="602.67"/>
<line class="gM" x1="249.25" x2="330.45" y1="582.74" y2="582.74"/>
<line class="gM" x1="249.25" x2="330.45" y1="562.81" y2="562.81"/>
<line class="gM" x1="249.25" x2="330.45" y1="542.88" y2="542.88"/>
<line class="gM" x1="258.62" x2="258.62" y1="540.19" y2="626.29"/>
<line class="gM" x1="274.23" x2="274.23" y1="540.19" y2="626.29"/>
<line class="gM" x1="289.85" x2="289.85" y1="540.19" y2="626.29"/>
<line class="gM" x1="305.47" x2="305.47" y1="540.19" y2="626.29"/>
<line class="gM" x1="321.08" x2="321.08" y1="540.19" y2="626.29"/>
<line class="dash" x1="249.25" x2="330.45" y1="592.71" y2="592.71"/>
<line class="dash" x1="249.25" x2="330.45" y1="562.81" y2="562.81"/>
<rect class="bar" x="251.59" y="622.10" width="14.05" height="0.50" fill="#a2cee5" stroke="#22282c"/>
<rect class="bar" x="267.21" y="601.37" width="14.05" height="21.23" fill="#a2cee5" stroke="#22282c"/>
<rect class="bar" x="282.82" y="552.15" width="14.05" height="70.45" fill="#a2cee5" stroke="#22282c"/>
<rect class="bar" x="298.44" y="616.52" width="14.05" height="6.08" fill="#a2cee5" stroke="#22282c"/>
<rect class="bar" x="314.05" y="622.10" width="14.05" height="0.50" fill="#a2cee5" stroke="#22282c"/>
<text class="ay" text-anchor="end" x="246.55" y="624.95">0%</text>
<text class="ay" text-anchor="end" x="246.55" y="605.02">20%</text>
<text class="ay" text-anchor="end" x="246.55" y="585.09">40%</text>
<text class="ay" text-anchor="end" x="246.55" y="565.16">60%</text>
<text class="ax" text-anchor="middle" transform="translate(261.32 651.90) rotate(-90)">...much less</text>
<text class="ax" text-anchor="middle" transform="translate(276.93 651.90) rotate(-90)">...a bit less</text>
<text class="ax" text-anchor="middle" transform="translate(292.55 651.90) rotate(-90)">fair</text>
<text class="ax" text-anchor="middle" transform="translate(308.17 651.90) rotate(-90)">...a bit more</text>
<text class="ax" text-anchor="middle" transform="translate(323.78 651.90) rotate(-90)">...much more</text>
<text class="tt" x="251.85" y="535.20">7 to 12</text>
<text class="nn" text-anchor="middle" x="313.27" y="550.40">N = 275</text></g>
<g><line class="gm" x1="365.50" x2="446.70" y1="612.63" y2="612.63"/>
<line class="gm" x1="365.50" x2="446.70" y1="592.71" y2="592.71"/>
<line class="gm" x1="365.50" x2="446.70" y1="572.77" y2="572.77"/>
<line class="gm" x1="365.50" x2="446.70" y1="552.85" y2="552.85"/>
<line class="gM" x1="365.50" x2="446.70" y1="622.60" y2="622.60"/>
<line class="gM" x1="365.50" x2="446.70" y1="602.67" y2="602.67"/>
<line class="gM" x1="365.50" x2="446.70" y1="582.74" y2="582.74"/>
<line class="gM" x1="365.50" x2="446.70" y1="562.81" y2="562.81"/>
<line class="gM" x1="365.50" x2="446.70" y1="542.88" y2="542.88"/>
<line class="gM" x1="374.87" x2="374.87" y1="540.19" y2="626.29"/>
<line class="gM" x1="390.48" x2="390.48" y1="540.19" y2="626.29"/>
<line class="gM" x1="406.10" x2="406.10" y1="540.19" y2="626.29"/>
<line class="gM" x1="421.72" x2="421.72" y1="540.19" y2="626.29"/>
<line class="gM" x1="437.33" x2="437.33" y1="540.19" y2="626.29"/>
<line class="dash" x1="365.50" x2="446.70" y1="592.71" y2="592.71"/>
<line class="dash" x1="365.50" x2="446.70" y1="562.81" y2="562.81"/>
<rect class="bar" x="367.84" y="620.81" width="14.05" height="1.79" fill="#a2cee5" stroke="#22282c"/>
<rect class="bar" x="383.46" y="606.76" width="14.05" height="15.84" fill="#a2cee5" stroke="#22282c"/>
<rect class="bar" x="399.07" y="546.77" width="14.05" height="75.83" fill="#a2cee5" stroke="#22282c"/>
<rect class="bar" x="414.69" y="617.02" width="14.05" height="5.58" fill="#a2cee5" stroke="#22282c"/>
<rect class="bar" x="430.30" y="622.00" width="14.05" height="0.60" fill="#a2cee5" stroke="#22282c"/>
<text class="ay" text-anchor="end" x="362.80" y="624.95">0%</text>
<text class="ay" text-anchor="end" x="362.80" y="605.02">20%</text>
<text class="ay" text-anchor="end" x="362.80" y="585.09">40%</text>
<text class="ay" text-anchor="end" x="362.80" y="565.16">60%</text>
<text class="ax" text-anchor="middle" transform="translate(377.57 651.90) rotate(-90)">...much less</text>
<text class="ax" text-anchor="middle" transform="translate(393.18 651.90) rotate(-90)">...a bit less</text>
<text class="ax" text-anchor="middle" transform="translate(408.80 651.90) rotate(-90)">fair</text>
<text class="ax" text-anchor="middle" transform="translate(424.42 651.90) rotate(-90)">...a bit more</text>
<text class="ax" text-anchor="middle" transform="translate(440.03 651.90) rotate(-90)">...much more</text>
<text class="tt" x="366.00" y="535.20">13 to 24</text>
<text class="nn" text-anchor="middle" x="429.52" y="550.40">N = 540</text></g>
<g><line class="gm" x1="481.75" x2="562.95" y1="612.63" y2="612.63"/>
<line class="gm" x1="481.75" x2="562.95" y1="592.71" y2="592.71"/>
<line class="gm" x1="481.75" x2="562.95" y1="572.77" y2="572.77"/>
<line class="gm" x1="481.75" x2="562.95" y1="552.85" y2="552.85"/>
<line class="gM" x1="481.75" x2="562.95" y1="622.60" y2="622.60"/>
<line class="gM" x1="481.75" x2="562.95" y1="602.67" y2="602.67"/>
<line class="gM" x1="481.75" x2="562.95" y1="582.74" y2="582.74"/>
<line class="gM" x1="481.75" x2="562.95" y1="562.81" y2="562.81"/>
<line class="gM" x1="481.75" x2="562.95" y1="542.88" y2="542.88"/>
<line class="gM" x1="491.12" x2="491.12" y1="540.19" y2="626.29"/>
<line class="gM" x1="506.73" x2="506.73" y1="540.19" y2="626.29"/>
<line class="gM" x1="522.35" x2="522.35" y1="540.19" y2="626.29"/>
<line class="gM" x1="537.97" x2="537.97" y1="540.19" y2="626.29"/>
<line class="gM" x1="553.58" x2="553.58" y1="540.19" y2="626.29"/>
<line class="dash" x1="481.75" x2="562.95" y1="592.71" y2="592.71"/>
<line class="dash" x1="481.75" x2="562.95" y1="562.81" y2="562.81"/>
<rect class="bar" x="484.09" y="621.50" width="14.05" height="1.10" fill="#a2cee5" stroke="#22282c"/>
<rect class="bar" x="499.71" y="602.37" width="14.05" height="20.23" fill="#a2cee5" stroke="#22282c"/>
<rect class="bar" x="515.32" y="551.65" width="14.05" height="70.95" fill="#a2cee5" stroke="#22282c"/>
<rect class="bar" x="530.94" y="615.43" width="14.05" height="7.17" fill="#a2cee5" stroke="#22282c"/>
<rect class="bar" x="546.55" y="622.50" width="14.05" height="0.10" fill="#a2cee5" stroke="#22282c"/>
<text class="ay" text-anchor="end" x="479.05" y="624.95">0%</text>
<text class="ay" text-anchor="end" x="479.05" y="605.02">20%</text>
<text class="ay" text-anchor="end" x="479.05" y="585.09">40%</text>
<text class="ay" text-anchor="end" x="479.05" y="565.16">60%</text>
<text class="ax" text-anchor="middle" transform="translate(493.82 651.90) rotate(-90)">...much less</text>
<text class="ax" text-anchor="middle" transform="translate(509.43 651.90) rotate(-90)">...a bit less</text>
<text class="ax" text-anchor="middle" transform="translate(525.05 651.90) rotate(-90)">fair</text>
<text class="ax" text-anchor="middle" transform="translate(540.67 651.90) rotate(-90)">...a bit more</text>
<text class="ax" text-anchor="middle" transform="translate(556.28 651.90) rotate(-90)">...much more</text>
<text class="tt" x="484.35" y="535.20">25 to 36</text>
<text class="nn" text-anchor="middle" x="545.77" y="550.40">N = 578</text></g>
<g><line class="gm" x1="598.00" x2="679.20" y1="612.63" y2="612.63"/>
<line class="gm" x1="598.00" x2="679.20" y1="592.71" y2="592.71"/>
<line class="gm" x1="598.00" x2="679.20" y1="572.77" y2="572.77"/>
<line class="gm" x1="598.00" x2="679.20" y1="552.85" y2="552.85"/>
<line class="gM" x1="598.00" x2="679.20" y1="622.60" y2="622.60"/>
<line class="gM" x1="598.00" x2="679.20" y1="602.67" y2="602.67"/>
<line class="gM" x1="598.00" x2="679.20" y1="582.74" y2="582.74"/>
<line class="gM" x1="598.00" x2="679.20" y1="562.81" y2="562.81"/>
<line class="gM" x1="598.00" x2="679.20" y1="542.88" y2="542.88"/>
<line class="gM" x1="607.37" x2="607.37" y1="540.19" y2="626.29"/>
<line class="gM" x1="622.98" x2="622.98" y1="540.19" y2="626.29"/>
<line class="gM" x1="638.60" x2="638.60" y1="540.19" y2="626.29"/>
<line class="gM" x1="654.22" x2="654.22" y1="540.19" y2="626.29"/>
<line class="gM" x1="669.83" x2="669.83" y1="540.19" y2="626.29"/>
<line class="dash" x1="598.00" x2="679.20" y1="592.71" y2="592.71"/>
<line class="dash" x1="598.00" x2="679.20" y1="562.81" y2="562.81"/>
<rect class="bar" x="600.34" y="620.71" width="14.05" height="1.89" fill="#a2cee5" stroke="#22282c"/>
<rect class="bar" x="615.96" y="603.67" width="14.05" height="18.93" fill="#a2cee5" stroke="#22282c"/>
<rect class="bar" x="631.57" y="549.86" width="14.05" height="72.74" fill="#a2cee5" stroke="#22282c"/>
<rect class="bar" x="647.19" y="616.62" width="14.05" height="5.98" fill="#a2cee5" stroke="#22282c"/>
<rect class="bar" x="662.80" y="622.10" width="14.05" height="0.50" fill="#a2cee5" stroke="#22282c"/>
<text class="ay" text-anchor="end" x="595.30" y="624.95">0%</text>
<text class="ay" text-anchor="end" x="595.30" y="605.02">20%</text>
<text class="ay" text-anchor="end" x="595.30" y="585.09">40%</text>
<text class="ay" text-anchor="end" x="595.30" y="565.16">60%</text>
<text class="ax" text-anchor="middle" transform="translate(610.07 651.90) rotate(-90)">...much less</text>
<text class="ax" text-anchor="middle" transform="translate(625.68 651.90) rotate(-90)">...a bit less</text>
<text class="ax" text-anchor="middle" transform="translate(641.30 651.90) rotate(-90)">fair</text>
<text class="ax" text-anchor="middle" transform="translate(656.92 651.90) rotate(-90)">...a bit more</text>
<text class="ax" text-anchor="middle" transform="translate(672.53 651.90) rotate(-90)">...much more</text>
<text class="tt" x="600.60" y="535.20">37 to 60</text>
<text class="nn" text-anchor="middle" x="662.02" y="550.40">N = 1148</text></g>
</svg>
</body></html>
